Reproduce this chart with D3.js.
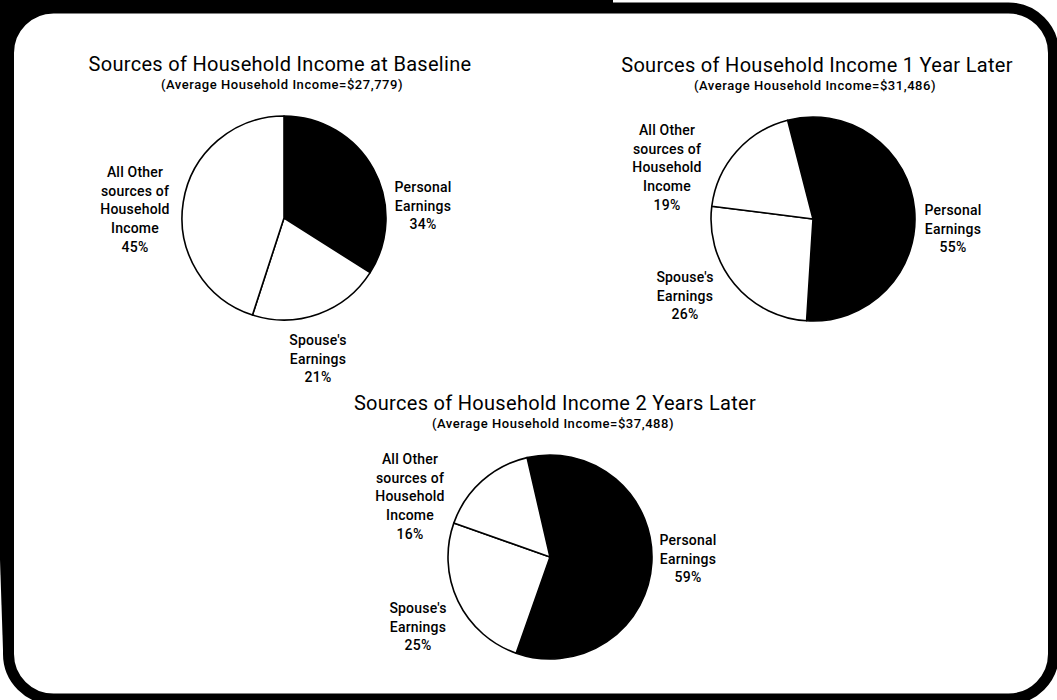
<!DOCTYPE html>
<html><head><meta charset="utf-8">
<script src="https://cdn.jsdelivr.net/npm/d3@7"></script>
<style>
html,body{margin:0;padding:0;background:#fff;}
svg{display:block;}
text{font-family:Roboto,"Liberation Sans",sans-serif;fill:#000;}
</style></head>
<body>
<script>
// ---- data ----
const categories = ["Personal Earnings", "Spouse's Earnings", "All Other sources of Household Income"];
const labelLines = [["Personal", "Earnings"], ["Spouse's", "Earnings"], ["All Other", "sources of", "Household", "Income"]];
const chartTitles = ["Sources of Household Income at Baseline", "Sources of Household Income 1 Year Later", "Sources of Household Income 2 Years Later"];
const avgIncome = [27779, 31486, 37488];
const baselineShares = [34, 21, 45];
const year1Shares = [55, 26, 19];
const year2Shares = [59, 25, 16];
const sliceFills = ["#000", "#fff", "#fff"];

// ---- layout (positions only) ----
const W = 1057, H = 700;
const pies = [
  {values: baselineShares, cx: 284, cy: 218, r: 102, start: 0,
   titleX: 280, titleY: 71, subX: 282, subY: 89,
   labels: [[139, -26], [34, 127], [-149, -41]]},
  {values: year1Shares, cx: 813, cy: 219, r: 102, start: -14.4,
   titleX: 817, titleY: 72, subX: 815, subY: 90,
   labels: [[140, -4], [-128, 63], [-146, -84]]},
  {values: year2Shares, cx: 550, cy: 557, r: 102, start: -13,
   titleX: 555, titleY: 410, subX: 553, subY: 428,
   labels: [[138, -12], [-132, 56], [-140, -93]]}
];
const lineH = 18.7;

const svg = d3.select("body").append("svg").attr("width", W).attr("height", H);
svg.append("rect").attr("width", W).attr("height", H).attr("fill", "#fff");

// frame
svg.append("rect").attr("x", 0).attr("y", 0).attr("width", 613).attr("height", 13).attr("fill", "#000");
svg.append("path").attr("d", "M0,0 L16,0 L16,120 L14,640 L3,650 L0,560 Z").attr("fill", "#000");
svg.append("rect").attr("x", 0).attr("y", 0).attr("width", 70).attr("height", 70).attr("fill", "#000");
svg.append("rect").attr("x", 8.5).attr("y", 8).attr("width", 1045).attr("height", 691)
  .attr("rx", 45).attr("ry", 45).attr("fill", "#fff").attr("stroke", "#000").attr("stroke-width", 11);

const fmt = d3.format("$,");
const pieGen = d3.pie().sort(null).value(d => d);

pies.forEach((p, i) => {
  const g = svg.append("g").attr("transform", `translate(${p.cx},${p.cy})`);
  const s = p.start * Math.PI / 180;
  const arcs = pieGen.startAngle(s).endAngle(s + 2 * Math.PI)(p.values);
  const arc = d3.arc().innerRadius(0).outerRadius(p.r);
  g.selectAll("path.slice").data(arcs).join("path")
    .attr("class", "slice")
    .attr("d", arc)
    .attr("fill", (d, j) => sliceFills[j])
    .attr("stroke", "#000").attr("stroke-width", 1.6).attr("stroke-linejoin", "round");

  // titles
  svg.append("text").attr("x", p.titleX).attr("y", p.titleY).attr("text-anchor", "middle")
    .attr("font-size", 20).attr("letter-spacing", 0.3).text(chartTitles[i]);
  svg.append("text").attr("x", p.subX).attr("y", p.subY).attr("text-anchor", "middle")
    .attr("font-size", 13).attr("font-weight", 500).attr("letter-spacing", 0.55)
    .text(`(Average Household Income=${fmt(avgIncome[i])})`);

  // labels
  arcs.forEach((a, j) => {
    const [dx, dy] = p.labels[j];
    const lines = labelLines[j].concat([a.data + "%"]);
    const t = g.append("text").attr("text-anchor", "middle")
      .attr("font-size", 14).attr("font-weight", 500).attr("letter-spacing", 0.2);
    lines.forEach((ln, k) => {
      t.append("tspan").attr("x", dx).attr("y", dy + k * lineH).text(ln);
    });
  });
});
</script>
</body></html>
